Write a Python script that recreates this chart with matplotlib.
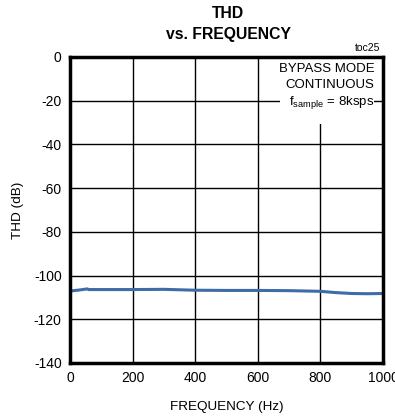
import matplotlib
matplotlib.use("Agg")
import matplotlib.pyplot as plt
from matplotlib.patches import Rectangle

plt.rcParams["font.family"] = ["Liberation Sans", "DejaVu Sans"]
plt.rcParams["mathtext.default"] = "regular"

# THD measured across the audio band (bypass mode, continuous, 8ksps)
freq_hz = [5, 30, 50, 55, 60, 100, 200, 300, 400, 500, 600, 700, 800, 850, 900, 950, 1000]
thd_db = [-107.0, -106.6, -106.2, -106.1, -106.4, -106.4, -106.4, -106.3, -106.7,
          -106.8, -106.8, -106.9, -107.2, -107.8, -108.2, -108.3, -108.2]

x_ticks = [0, 200, 400, 600, 800, 1000]
y_ticks = [0, -20, -40, -60, -80, -100, -120, -140]

fig = plt.figure(figsize=(3.95, 4.17), dpi=100)
ax = fig.add_axes([70 / 395, 54 / 417, 313 / 395, 306 / 417])

ax.set_xlim(0, 1000)
ax.set_ylim(-140, 0)
ax.set_xticks(x_ticks)
ax.set_yticks(y_ticks)
ax.set_xticklabels([str(v) for v in x_ticks])
ax.set_yticklabels([str(v) for v in y_ticks])
ax.tick_params(length=0, labelsize=10, pad=6)

ax.set_axisbelow(True)
ax.grid(True, color="black", linewidth=1.0)
for s in ax.spines.values():
    s.set_linewidth(2.5)
    s.set_zorder(5)

# clear area behind the condition notes
ax.add_patch(Rectangle((0.671, 0.781), 0.30, 0.22, transform=ax.transAxes,
                       facecolor="white", edgecolor="none", zorder=1))

ax.plot(freq_hz, thd_db, color="#3d6ca8", linewidth=2.2, zorder=3, clip_on=True)

notes = ["BYPASS MODE", "CONTINUOUS", "f$_{sample}$ = 8ksps"]
note_y = [0.961, 0.908, 0.850]
for txt, yy in zip(notes, note_y):
    ax.text(0.973, yy, txt, transform=ax.transAxes, ha="right", va="center",
            fontsize=9.5, zorder=4)

ax.set_xlabel("FREQUENCY (Hz)", fontsize=9.7, labelpad=11)
ax.set_ylabel("THD (dB)", fontsize=9.7, labelpad=7)

fig.text(228 / 395, 1 - 14 / 417, "THD", ha="center", va="center",
         fontsize=11.3, fontweight="bold")
fig.text(228 / 395, 1 - 35 / 417, "vs. FREQUENCY", ha="center", va="center",
         fontsize=11.3, fontweight="bold")
fig.text(380 / 395, 1 - 48 / 417, "toc25", ha="right", va="center", fontsize=7.5)

fig.savefig("out.png", dpi=100)
